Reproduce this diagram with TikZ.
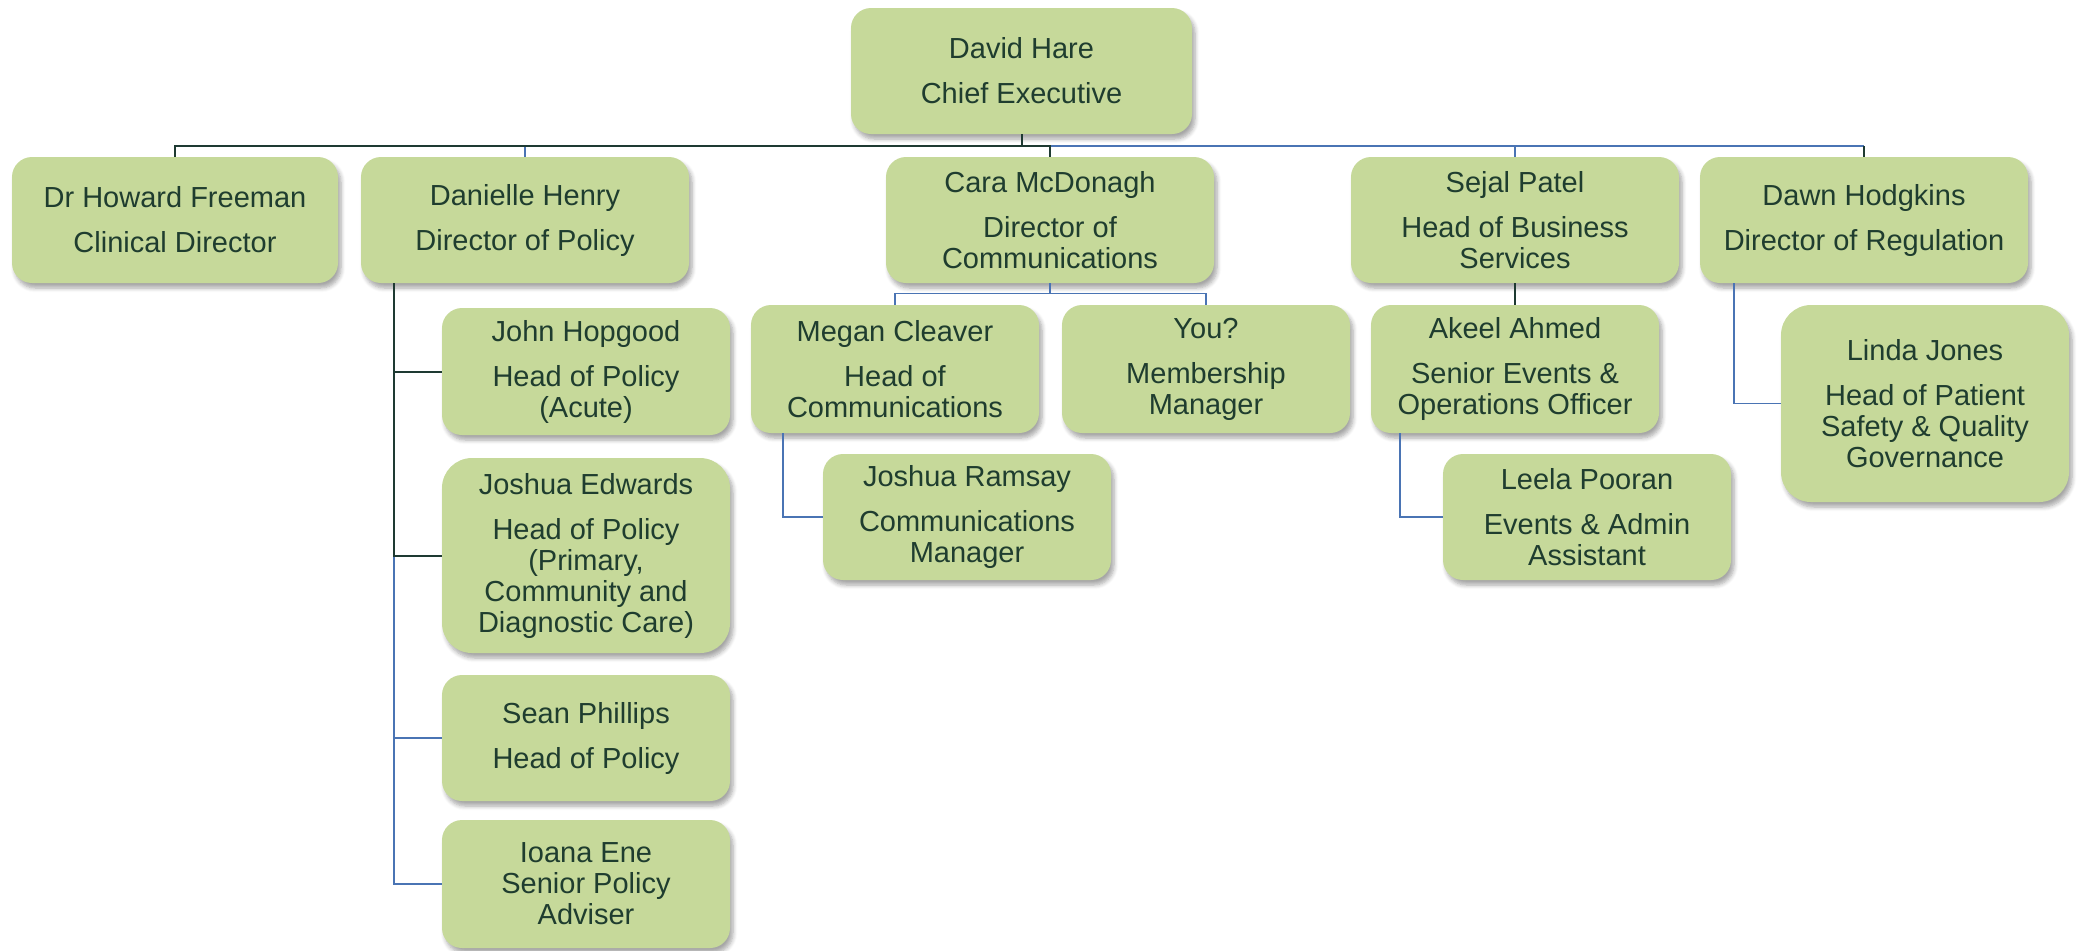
\documentclass[tikz,border=0pt]{standalone}
\usepackage{fontspec}
\setmainfont{Liberation Sans}
\usetikzlibrary{shadows.blur}
\definecolor{boxfill}{HTML}{C6D99A}
\definecolor{txt}{HTML}{1F3D2F}
\definecolor{dkline}{HTML}{1E3A32}
\definecolor{blline}{HTML}{4A74B4}
\tikzset{
  person/.style={rectangle, rounded corners=10pt, fill=boxfill, text=txt,
    align=center, inner sep=0pt,
    font=\fontsize{14.5}{15.5}\selectfont,
    blur shadow={shadow xshift=1.5pt, shadow yshift=-2.5pt, shadow blur steps=6, shadow opacity=35}},
  sz/.style 2 args={minimum width=#1, minimum height=#2},
  dk/.style={draw=dkline, line width=1pt},
  bl/.style={draw=blline, line width=0.9pt},
}
\newcommand{\gp}{\\[7pt]}
\begin{document}
\begin{tikzpicture}[x=0.5pt,y=-0.5pt]
\useasboundingbox (0,0) rectangle (2081,950);
% top
\node[person, sz={170.5pt}{63pt}] (ceo) at (1021.5,71) {David Hare\gp Chief Executive};
% level 1
\node[person, sz={163pt}{63pt}] (howard) at (175,220) {Dr Howard Freeman\gp Clinical Director};
\node[person, sz={164pt}{63pt}] (danielle) at (525,220) {Danielle Henry\gp Director of Policy};
\node[person, sz={164pt}{63pt}] (cara) at (1050,220) {Cara McDonagh\gp Director of\\Communications};
\node[person, sz={164pt}{63pt}] (sejal) at (1515,220) {Sejal Patel\gp Head of Business\\Services};
\node[person, sz={164pt}{63pt}] (dawn) at (1864,220) {Dawn Hodgkins\gp Director of Regulation};
% policy team
\node[person, sz={144pt}{63.5pt}] (john) at (586,371.5) {John Hopgood\gp Head of Policy\\(Acute)};
\node[person, sz={144pt}{97.5pt}, rounded corners=15pt] (joshe) at (586,555.5) {Joshua Edwards\gp Head of Policy\\(Primary,\\Community and\\Diagnostic Care)};
\node[person, sz={144pt}{63pt}] (sean) at (586,738) {Sean Phillips\gp Head of Policy};
\node[person, sz={144pt}{64pt}] (ioana) at (586,884) {Ioana Ene\\Senior Policy\\Adviser};
% communications
\node[person, sz={144pt}{64pt}] (megan) at (895,369) {Megan Cleaver\gp Head of\\Communications};
\node[person, sz={144pt}{64pt}] (you) at (1206,369) {You?\gp Membership\\Manager};
\node[person, sz={144pt}{63pt}] (ramsay) at (967,517) {Joshua Ramsay\gp Communications\\Manager};
% business services
\node[person, sz={144pt}{64pt}] (akeel) at (1515,369) {Akeel Ahmed\gp Senior Events \&\\Operations Officer};
\node[person, sz={144pt}{63pt}] (leela) at (1587,517) {Leela Pooran\gp Events \& Admin\\Assistant};
% regulation
\node[person, sz={144pt}{98.5pt}, rounded corners=15pt] (linda) at (1925,403.5) {Linda Jones\gp Head of Patient\\Safety \& Quality\\Governance};

% connectors: top bus
\coordinate (bus) at (0,146);
\draw[bl] (cara.north |- bus) -- (dawn.north |- bus);
\draw[bl] (danielle.north) -- (danielle.north |- bus);
\draw[bl] (sejal.north) -- (sejal.north |- bus);
\draw[dk] (howard.north) |- (cara.north |- bus) -- (cara.north);
\draw[dk] (ceo.south) -- (ceo.south |- bus);
\draw[dk] (dawn.north) -- (dawn.north |- bus);
% policy
\coordinate (dtop) at ([xshift=16.5pt]danielle.south west);
\draw[bl] (dtop |- joshe.west) |- (ioana.west);
\draw[bl] (dtop |- sean.west) -- (sean.west);
\draw[dk] (dtop) |- (joshe.west);
\draw[dk] (dtop |- john.west) -- (john.west);
% communications
\draw[bl] (cara.south) -- ++(0,10) coordinate (cbar) -| (megan.north);
\draw[bl] (cbar) -| (you.north);
\draw[bl] ([xshift=16pt]megan.south west) |- (ramsay.west);
% business
\draw[dk] (sejal.south) -- (akeel.north);
\draw[bl] ([xshift=14.5pt]akeel.south west) |- (leela.west);
% regulation
\draw[bl] ([xshift=17pt]dawn.south west) |- (linda.west);
\end{tikzpicture}
\end{document}
